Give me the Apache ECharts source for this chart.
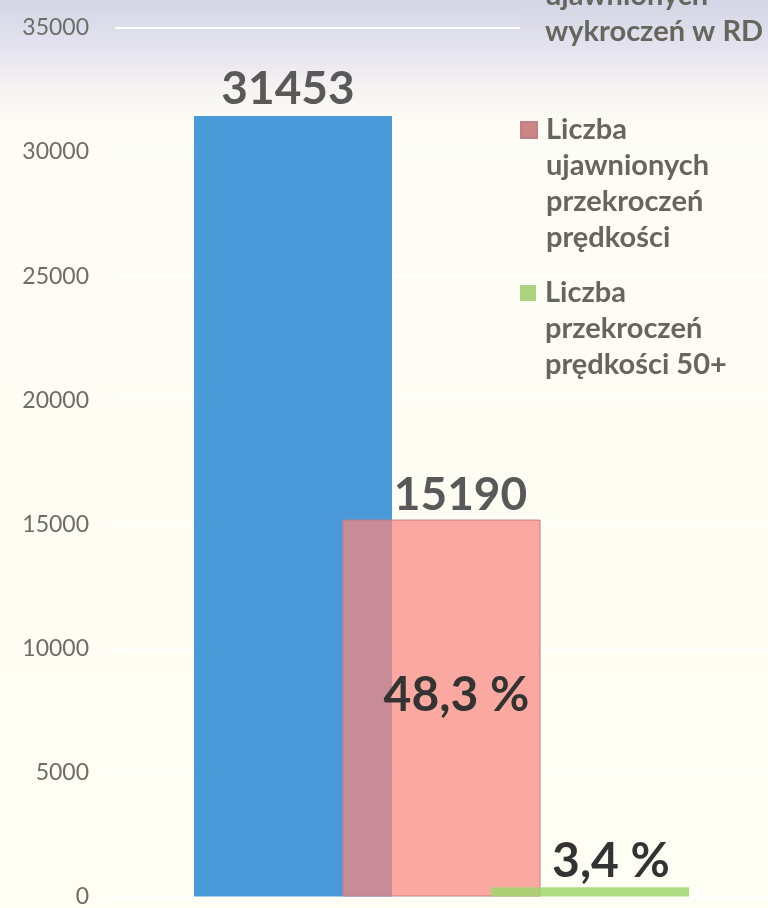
<!DOCTYPE html>
<html>
<head>
<meta charset="utf-8">
<script src="https://cdn.jsdelivr.net/npm/echarts@6/dist/echarts.min.js"></script>
<style>
html,body{margin:0;padding:0;background:#fefef4;}
#chart{width:768px;height:908px;}
</style>
</head>
<body>
<div id="chart"></div>
<script>
// ---- data ----
const categories = [''];
const seriesNames = [
  'Liczba\nujawnionych\nwykroczeń w RD',
  'Liczba\nujawnionych\nprzekroczeń\nprędkości',
  'Liczba\nprzekroczeń\nprędkości 50+'
];
const totalOffences = [31453];
const speedingOffences = [15190];
const speeding50Plus = [370];
const percentLabels = ['48,3 %', '3,4 %'];
const yMin = 0, yMax = 35000, yStep = 5000;

// ---- styles ----
const FONT = 'Lato';
const valueLabel = { fontFamily: FONT, fontWeight: 'bold', fontSize: 46, color: '#595959' };
const pctLabel = { fontFamily: FONT, fontWeight: 'bold', fontSize: 48, color: '#333333' };

function legendFmt(name) {
  const n = name.split('\n').length;
  return '\n'.repeat(n - 1) + name;
}
const legendText = { fontFamily: FONT, fontWeight: 'bold', fontSize: 29, color: '#66665e', lineHeight: 36, padding: [0, 0, 0, 4] };
const legendBase = {
  orient: 'vertical', left: 520, itemWidth: 16, itemHeight: 16, padding: 0,
  selectedMode: false, formatter: legendFmt, textStyle: legendText, icon: 'rect'
};

const chart = echarts.init(document.getElementById('chart'));
chart.setOption({
  animation: false,
  backgroundColor: new echarts.graphic.LinearGradient(0, 0, 0, 1, [
    { offset: 0, color: '#d4d6e5' },
    { offset: 0.05, color: '#e4e2ee' },
    { offset: 0.1, color: '#f6f4f3' },
    { offset: 0.14, color: '#fdfdf5' },
    { offset: 1, color: '#fefef4' }
  ]),
  grid: { left: 115, right: 0, top: 28, bottom: 8 },
  legend: [
    Object.assign({}, legendBase, {
      top: -130,
      padding: [0, 30, 0, 0],
      data: [{ name: seriesNames[0], itemStyle: { color: '#4b9bdc' } }],
      backgroundColor: new echarts.graphic.LinearGradient(0, 0, 0, 1, [
        { offset: 0, color: '#d4d6e5' },
        { offset: 0.722, color: '#d4d6e5' },
        { offset: 1, color: '#e5e3ee' }
      ])
    }),
    Object.assign({}, legendBase, {
      top: 4,
      data: [{ name: seriesNames[1], itemStyle: { color: '#cf8583' } }]
    }),
    Object.assign({}, legendBase, {
      top: 203,
      data: [{ name: seriesNames[2], itemStyle: { color: '#a9d67c' } }]
    })
  ],
  xAxis: {
    type: 'category', data: categories,
    axisLine: { show: false }, axisTick: { show: false }, axisLabel: { show: false }
  },
  yAxis: {
    type: 'value', min: yMin, max: yMax, interval: yStep,
    axisLine: { show: false }, axisTick: { show: false },
    axisLabel: { fontFamily: FONT, fontSize: 23, color: '#6d6d68', margin: 26, formatter: v => String(v) },
    splitLine: { show: true, lineStyle: { color: '#ffffff', width: 2 } }
  },
  series: [
    {
      name: seriesNames[0], type: 'bar', data: totalOffences,
      barWidth: 198, barGap: '-25%',
      itemStyle: { color: '#4a9ad9' },
      label: Object.assign({ show: true, position: 'top', distance: 4, offset: [-5, 0], formatter: '{c}' }, valueLabel)
    },
    {
      name: seriesNames[1], type: 'bar', data: speedingOffences,
      barWidth: 198, barGap: '-25%',
      itemStyle: { color: 'rgba(250,135,128,0.72)', borderColor: '#c08088', borderWidth: 1 },
      label: Object.assign({ show: true, position: 'inside', offset: [15, -13], formatter: () => percentLabels[0] }, pctLabel),
      markPoint: {
        symbol: 'rect', symbolSize: [1, 1], itemStyle: { color: 'rgba(0,0,0,0)' },
        data: [{ type: 'max' }],
        label: Object.assign({ show: true, position: 'top', distance: 1, offset: [19, 0], formatter: '{c}' }, valueLabel)
      }
    },
    {
      name: seriesNames[2], type: 'bar', data: speeding50Plus,
      barWidth: 198, barGap: '-25%',
      itemStyle: { color: 'rgba(160,214,110,0.85)' },
      label: Object.assign({ show: true, position: 'top', distance: 2, offset: [21, 0], formatter: () => percentLabels[1] }, pctLabel)
    }
  ]
});
</script>
</body>
</html>
